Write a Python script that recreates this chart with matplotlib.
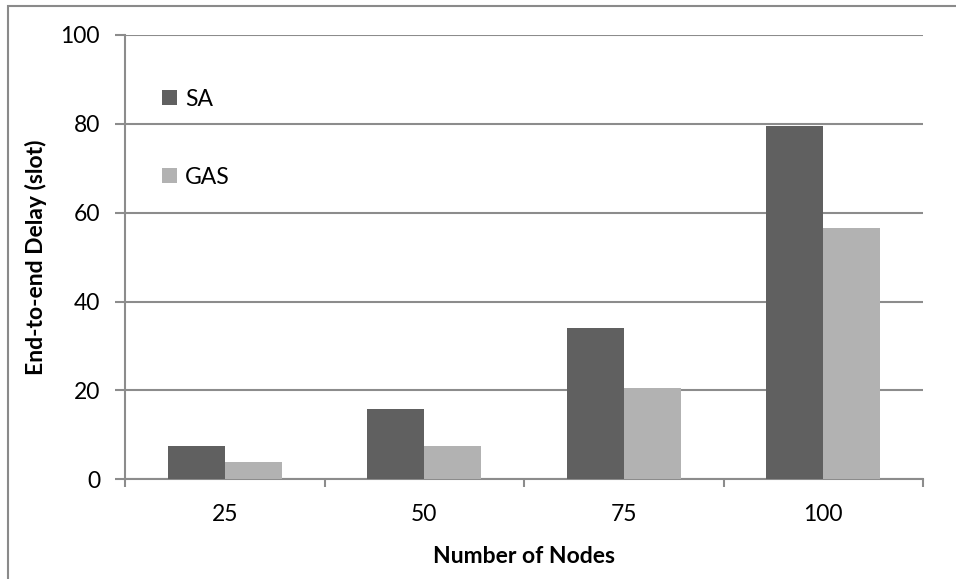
import matplotlib
matplotlib.use("Agg")
import matplotlib.pyplot as plt
from matplotlib.patches import Rectangle, Patch
import numpy as np

nodes = ["25", "50", "75", "100"]
sa_delay = [7.5, 15.9, 34.0, 79.6]
gas_delay = [4.0, 7.6, 20.6, 56.6]
series_names = ["SA", "GAS"]
y_ticks = [0, 20, 40, 60, 80, 100]

plt.rcParams["font.family"] = ["Lato", "DejaVu Sans"]

W, H = 956, 579
fig = plt.figure(figsize=(W / 100, H / 100), dpi=100)
fig.patch.set_facecolor("white")

# outer chart frame
fig.patches.append(Rectangle((7.5 / W, -0.01), 1.2, 1 - 5.5 / H + 0.01,
                             transform=fig.transFigure, fill=False,
                             edgecolor="#8a8a8a", linewidth=1.5))

left, right = 125 / W, 923 / W
bottom, top = 1 - 479.3 / H, 1 - 35 / H
ax = fig.add_axes([left, bottom, right - left, top - bottom])

grid_col = "#8c8c8c"
sa_col = "#606060"
gas_col = "#b2b2b2"
fs = 16.5

x = np.arange(len(nodes))
bw = 1 / 3.5
ax.bar(x - bw / 2, sa_delay, width=bw, color=sa_col, linewidth=0, zorder=3)
ax.bar(x + bw / 2, gas_delay, width=bw, color=gas_col, linewidth=0, zorder=3)

ax.set_xlim(-0.5, len(nodes) - 0.5)
ax.set_ylim(0, 100)
ax.set_yticks(y_ticks)
ax.set_yticklabels([str(v) for v in y_ticks], fontsize=fs)
ax.set_xticks(x)
ax.set_xticklabels(nodes, fontsize=fs)
ax.set_xticks(np.arange(-0.5, len(nodes)), minor=True)

ax.tick_params(axis="x", which="major", length=0, pad=18)
ax.tick_params(axis="x", which="minor", length=6, width=1.5, color=grid_col, direction="out")
ax.tick_params(axis="y", which="major", length=7, width=1.5, color=grid_col, direction="out", pad=11)

ax.yaxis.grid(True, color=grid_col, linewidth=1.5, zorder=0)
ax.set_axisbelow(True)
for s in ["top", "right"]:
    ax.spines[s].set_visible(False)
for s in ["left", "bottom"]:
    ax.spines[s].set_color(grid_col)
    ax.spines[s].set_linewidth(1.5)

ax.set_xlabel("Number of Nodes", fontsize=fs, fontweight="bold", labelpad=15)
ax.set_ylabel("End-to-end Delay (slot)", fontsize=fs, fontweight="bold", labelpad=10)

handles = [Patch(facecolor=sa_col, edgecolor="none"),
           Patch(facecolor=gas_col, edgecolor="none")]
ax.legend(handles, series_names, loc="upper left", bbox_to_anchor=(0.035, 0.9),
          frameon=False, fontsize=fs, handlelength=0.65, handleheight=0.65,
          handletextpad=0.35, labelspacing=2.5, borderaxespad=0)

fig.savefig("out.png", dpi=100, facecolor="white")
